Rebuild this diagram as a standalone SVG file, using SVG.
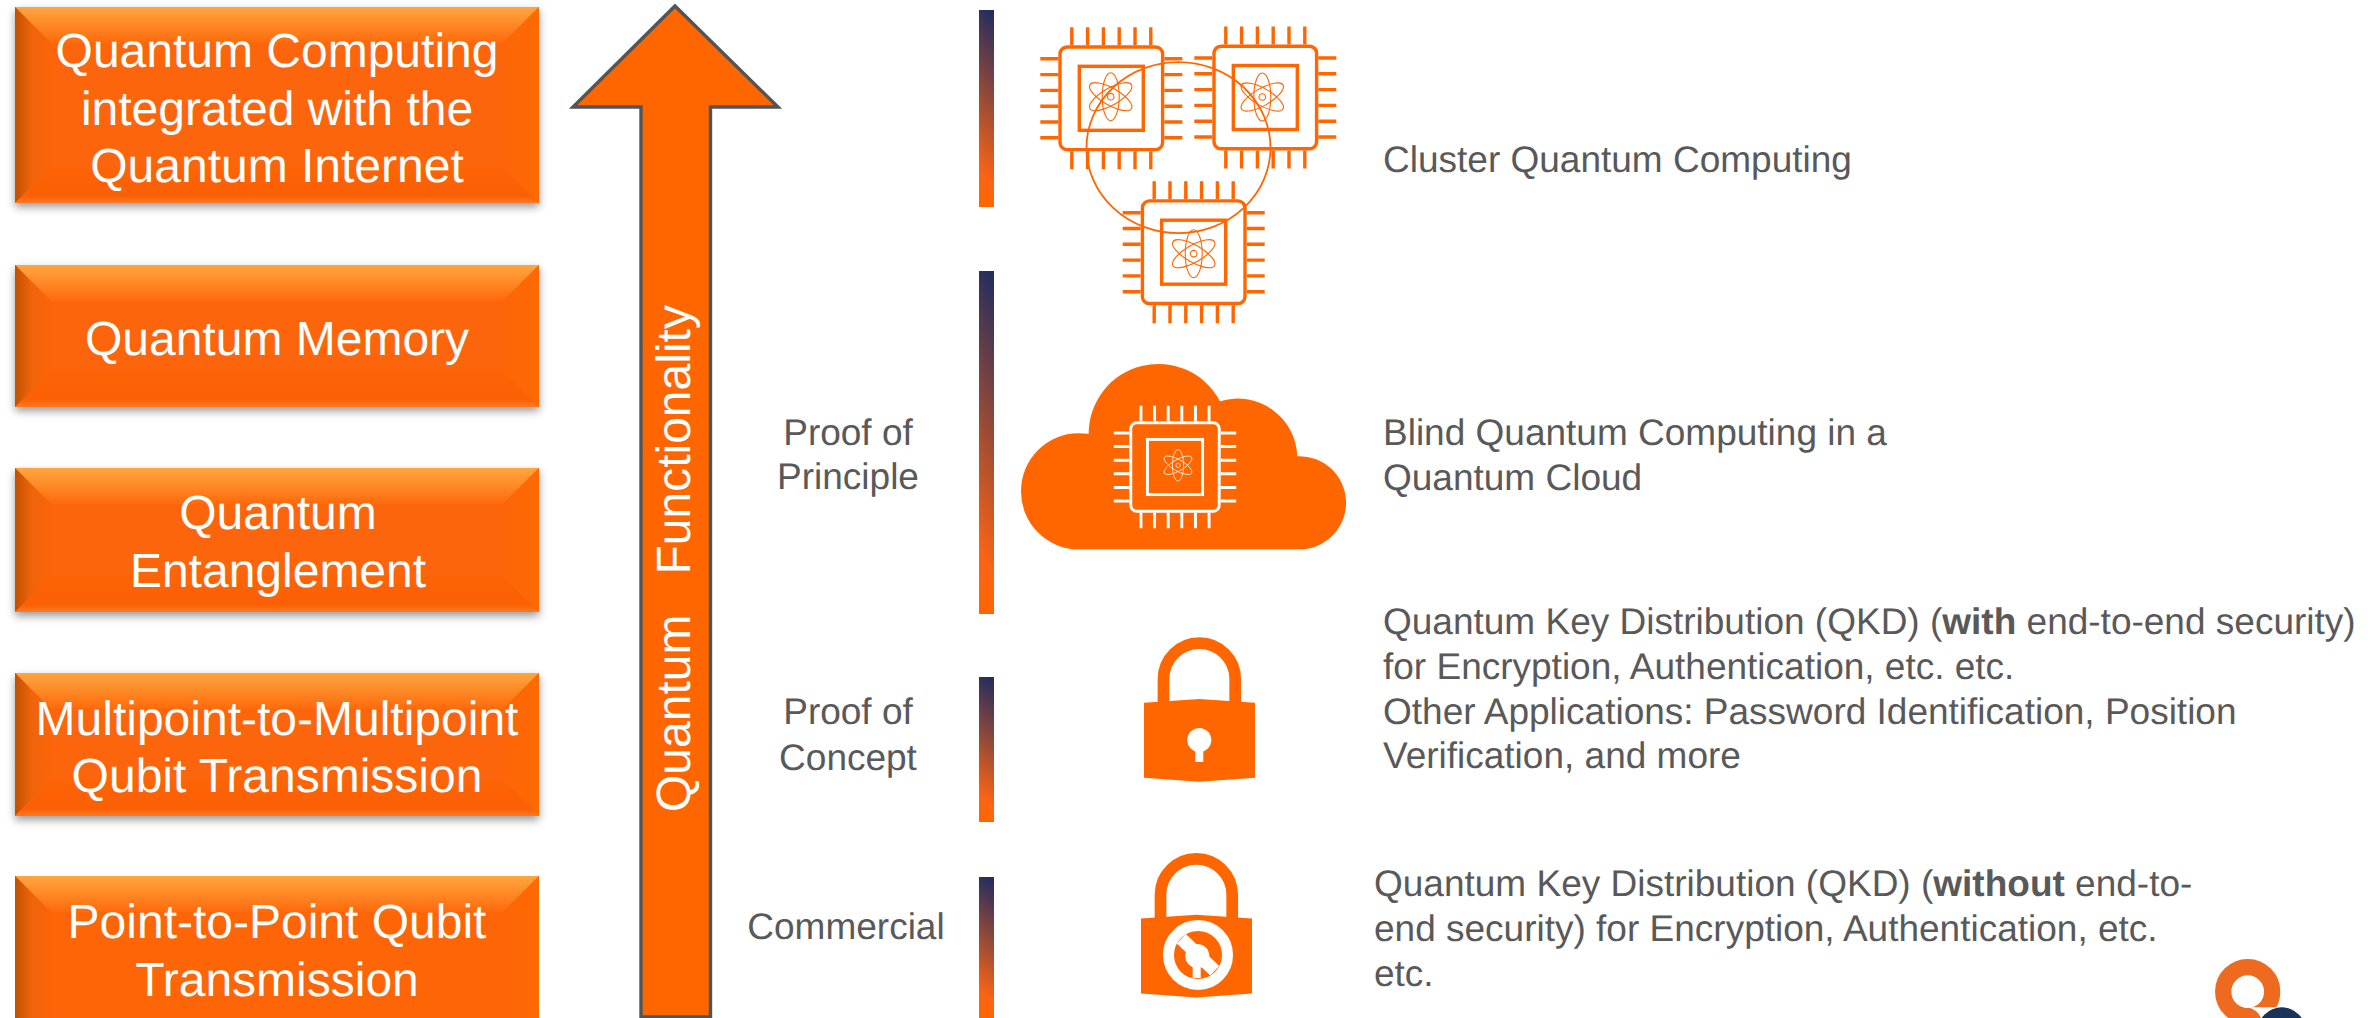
<svg xmlns="http://www.w3.org/2000/svg" width="2374" height="1018" viewBox="0 0 2374 1018">
<style>
text{font-family:"Liberation Sans",Arial,sans-serif;text-rendering:geometricPrecision}
.box{font-size:48px;fill:#fff;text-anchor:middle}
.lab{font-size:37px;fill:#595959}
.mid{text-anchor:middle}
.base{fill:#fd6507}
.t{fill:url(#bt)}.l{fill:url(#bl)}.r{fill:url(#br)}.b{fill:url(#bb)}
.bar{fill:url(#bar)}
.or{fill:#ff6600}
.chipc{fill:none;stroke:currentColor}
</style>
<defs>
<linearGradient id="bt" x1="0" y1="0" x2="0" y2="1"><stop offset="0" stop-color="#ffa640"/><stop offset="1" stop-color="#fe6a0c"/></linearGradient>
<linearGradient id="bl" x1="0" y1="0" x2="1" y2="0"><stop offset="0" stop-color="#c25000"/><stop offset=".45" stop-color="#ee640c"/><stop offset="1" stop-color="#fd6507"/></linearGradient>
<linearGradient id="br" x1="0" y1="0" x2="1" y2="0"><stop offset="0" stop-color="#fd6507"/><stop offset="1" stop-color="#ff6a02"/></linearGradient>
<linearGradient id="bb" x1="0" y1="0" x2="0" y2="1"><stop offset="0" stop-color="#fd6406"/><stop offset=".8" stop-color="#fb6004"/><stop offset="1" stop-color="#fd7a25"/></linearGradient>
<linearGradient id="bar" x1=".54" y1="0" x2=".46" y2="1"><stop offset="0" stop-color="#262e5e"/><stop offset=".85" stop-color="#fb6415"/><stop offset="1" stop-color="#ff6600"/></linearGradient>
<filter id="sh" x="-5%" y="-5%" width="110%" height="115%"><feDropShadow dx="0" dy="4" stdDeviation="4" flood-color="#000" flood-opacity=".4"/></filter>
<g id="chip" class="chipc">
<rect x="-51.3" y="-51.3" width="102.6" height="102.6" rx="7" stroke-width="3.4"/>
<rect x="-32" y="-32" width="64" height="64" stroke-width="3.4"/>
<path stroke-width="3.4" d="M-39.5-71V-53M-23.7-71V-53M-7.9-71V-53M7.9-71V-53M23.7-71V-53M39.5-71V-53M-39.5 53V71M-23.7 53V71M-7.9 53V71M7.9 53V71M23.7 53V71M39.5 53V71M-71-39.5H-53M-71-23.7H-53M-71-7.9H-53M-71 7.9H-53M-71 23.7H-53M-71 39.5H-53M53-39.5H71M53-23.7H71M53-7.9H71M53 7.9H71M53 23.7H71M53 39.5H71"/>
</g>
<g id="atom" class="chipc" stroke-width="1.1">
<circle r="3.3"/>
<ellipse rx="8.5" ry="24"/>
<ellipse rx="24" ry="8.5" transform="rotate(30)"/>
<ellipse rx="24" ry="8.5" transform="rotate(-30)"/>
</g>
<path id="lockbody" d="M1144 702.7L1199.3 699L1255 702.7V777.7L1199.3 781.7L1144 777.7Z"/>
<path id="shackle" fill="none" stroke="#ff6600" stroke-width="11.7" d="M1163.5 704V679A35.85 35.85 0 0 1 1235.2 679V704"/>
</defs>

<g id="node-computing">
<rect class="base" x="15" y="7" width="524" height="196" filter="url(#sh)"/>
<path class="t" d="M15 7H539L503 43H51Z"/><path class="l" d="M15 7L51 43V167L15 203Z"/><path class="r" d="M539 7L503 43V167L539 203Z"/><path class="b" d="M15 203L51 167H503L539 203Z"/>
<text class="box" x="277"><tspan x="277" y="67">Quantum Computing</tspan><tspan x="277" y="124.5">integrated with the</tspan><tspan x="277" y="182">Quantum Internet</tspan></text>
</g>
<g id="node-memory">
<rect class="base" x="15" y="265" width="524" height="142" filter="url(#sh)"/>
<path class="t" d="M15 265H539L503 301H51Z"/><path class="l" d="M15 265L51 301V371L15 407Z"/><path class="r" d="M539 265L503 301V371L539 407Z"/><path class="b" d="M15 407L51 371H503L539 407Z"/>
<text class="box" x="277" y="355">Quantum Memory</text>
</g>
<g id="node-entanglement">
<rect class="base" x="15" y="468" width="524" height="144" filter="url(#sh)"/>
<path class="t" d="M15 468H539L503 504H51Z"/><path class="l" d="M15 468L51 504V576L15 612Z"/><path class="r" d="M539 468L503 504V576L539 612Z"/><path class="b" d="M15 612L51 576H503L539 612Z"/>
<text class="box" x="278"><tspan x="278" y="529">Quantum</tspan><tspan x="278" y="587">Entanglement</tspan></text>
</g>
<g id="node-multipoint">
<rect class="base" x="15" y="673" width="524" height="143" filter="url(#sh)"/>
<path class="t" d="M15 673H539L503 709H51Z"/><path class="l" d="M15 673L51 709V780L15 816Z"/><path class="r" d="M539 673L503 709V780L539 816Z"/><path class="b" d="M15 816L51 780H503L539 816Z"/>
<text class="box" x="277"><tspan x="277" y="735">Multipoint-to-Multipoint</tspan><tspan x="277" y="792">Qubit Transmission</tspan></text>
</g>
<g id="node-point">
<rect class="base" x="15" y="876" width="524" height="142"/>
<path class="t" d="M15 876H539L503 912H51Z"/><path class="l" d="M15 876L51 912V1018H15Z"/><path class="r" d="M539 876L503 912V1018H539Z"/>
<text class="box" x="277"><tspan x="277" y="938">Point-to-Point Qubit</tspan><tspan x="277" y="996">Transmission</tspan></text>
</g>

<g id="connectors">
<path d="M675 6L778 107H710.500V1017H641V107H573Z" fill="#ff6600" stroke="#4f5558" stroke-width="3.400"/>
<text x="0" y="0" transform="translate(690 812) rotate(-90)" font-size="48" fill="#fff" xml:space="preserve" style="white-space:pre">Quantum   Functionality</text>
</g>

<g id="bars">
<rect class="bar" x="979" y="10" width="15" height="197"/>
<rect class="bar" x="979" y="271" width="15" height="343"/>
<rect class="bar" x="979" y="677" width="15" height="145"/>
<rect class="bar" x="979" y="877" width="15" height="141"/>
</g>

<g id="stage-labels" class="lab">
<text class="lab mid"><tspan x="848" y="444.500">Proof of</tspan><tspan x="848" y="489">Principle</tspan></text>
<text class="lab mid"><tspan x="848" y="724">Proof of</tspan><tspan x="848" y="769.500">Concept</tspan></text>
<text class="lab mid" x="846" y="939">Commercial</text>
</g>

<g id="node-cluster" style="color:#ff6600">
<use href="#chip" x="1111.300" y="98.300"/><use href="#atom" x="1110.700" y="96.700"/>
<use href="#chip" x="1265.300" y="97.500"/><use href="#atom" x="1262.300" y="97"/>
<use href="#chip" x="1193.700" y="252.200"/><use href="#atom" x="1193.700" y="253.700"/>
<ellipse cx="1178.500" cy="147.700" rx="92" ry="85.500" fill="none" stroke="#ff6600" stroke-width="1.800"/>
<text class="lab" x="1383" y="172">Cluster Quantum Computing</text>
</g>

<g id="node-cloud" style="color:#fff">
<path class="or" d="M1078.300 549.300A57.300 58 0 0 1 1078.300 433.300L1088.700 433.700A69.600 69.600 0 0 1 1220 401.300A59.600 59.600 0 0 1 1297.300 456.300A46.520 46.520 0 1 1 1301.700 549.300Z"/>
<use href="#chip" transform="translate(1175 467) scale(.862)"/>
<use href="#atom" transform="translate(1178 465.300) scale(.66)"/>
<text class="lab"><tspan x="1383" y="445">Blind Quantum Computing in a</tspan><tspan x="1383" y="490">Quantum Cloud</tspan></text>
</g>

<g id="node-lock">
<use href="#shackle"/><use href="#lockbody" class="or"/>
<circle cx="1199.300" cy="740" r="12" fill="#fff"/><rect x="1195.300" y="750" width="8" height="12" fill="#fff"/>
<text class="lab"><tspan x="1383" y="634">Quantum Key Distribution (QKD) (<tspan font-weight="bold">with</tspan> end-to-end security)</tspan><tspan x="1383" y="679">for Encryption, Authentication, etc. etc.</tspan><tspan x="1383" y="724">Other Applications: Password Identification, Position</tspan><tspan x="1383" y="768">Verification, and more</tspan></text>
</g>

<g id="node-lock-broken">
<g transform="translate(-3 215.700)"><use href="#shackle"/><use href="#lockbody" class="or"/></g>
<circle cx="1198" cy="955" r="29.500" fill="#ff6600" stroke="#fff" stroke-width="11"/>
<circle cx="1197.300" cy="956" r="12" fill="#fff"/><rect x="1192.700" y="960" width="8" height="18" fill="#fff"/>
<path d="M1181.300 938.700L1214.700 970.700" stroke="#fff" stroke-width="13" fill="none"/>
<text class="lab"><tspan x="1374" y="896">Quantum Key Distribution (QKD) (<tspan font-weight="bold">without</tspan> end-to-</tspan><tspan x="1374" y="941">end security) for Encryption, Authentication, etc.</tspan><tspan x="1374" y="986">etc.</tspan></text>
</g>

<g id="logo">
<circle cx="2247.700" cy="991.700" r="24.500" fill="none" stroke="#ee6a1f" stroke-width="16.300"/>
<path d="M2248 1007.300H2290V1018H2261Q2258 1010 2248 1007.300Z" fill="#fff"/>
<circle cx="2281.700" cy="1031.500" r="24.200" fill="#1a3358"/>
</g>
</svg>
